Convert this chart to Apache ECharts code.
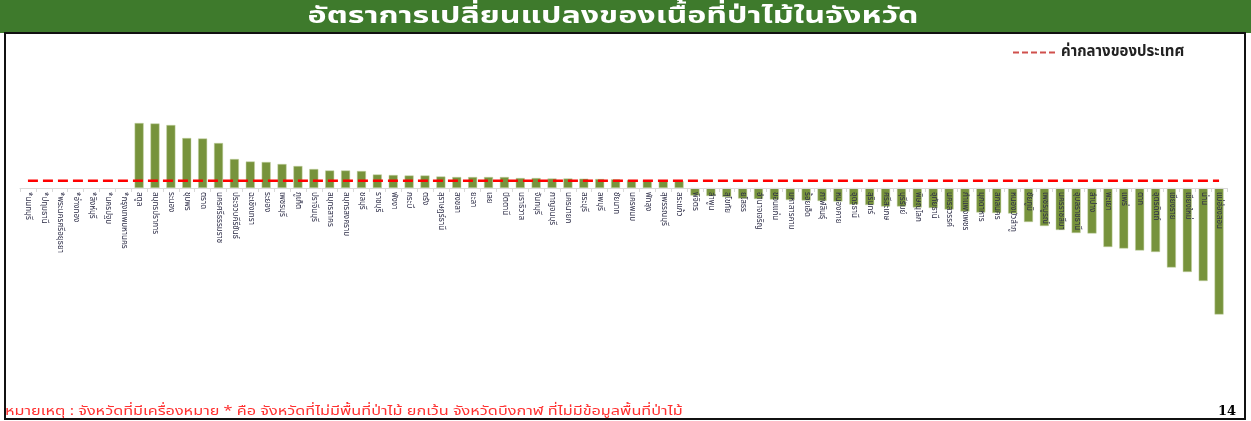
<!DOCTYPE html>
<html>
<head>
<meta charset="utf-8">
<script src="https://cdn.jsdelivr.net/npm/echarts@6/dist/echarts.min.js"></script>
<style>
  html, body { margin: 0; padding: 0; background: #fff; }
  #chart { width: 1251px; height: 421px; }
</style>
</head>
<body>
<div id="chart"></div>
<script>
// จังหวัด (เรียงตามอัตราการเปลี่ยนแปลง)
const provinces = [
    "*นนทบุรี", "*ปทุมธานี", "*พระนครศรีอยุธยา", "*อ่างทอง", "*สิงห์บุรี", "*นครปฐม", "*กรุงเทพมหานคร",
    "สตูล", "สมุทรปราการ", "ระนอง", "ชุมพร", "ตราด", "นครศรีธรรมราช", "ประจวบคีรีขันธ์", "ฉะเชิงเทรา",
    "ระยอง", "เพชรบุรี", "ภูเก็ต", "ปราจีนบุรี", "สมุทรสาคร", "สมุทรสงคราม", "ชลบุรี", "ราชบุรี",
    "พังงา", "กระบี่", "ตรัง", "สุราษฎร์ธานี", "สงขลา", "ยะลา", "เลย", "ปัตตานี", "นราธิวาส",
    "จันทบุรี", "กาญจนบุรี", "นครนายก", "สระบุรี", "ลพบุรี", "ชัยนาท", "นครพนม", "พัทลุง",
    "สุพรรณบุรี", "สระแก้ว",
    "พิจิตร", "ลำพูน", "สุโขทัย", "ยโสธร", "อำนาจเจริญ", "ขอนแก่น", "มหาสารคาม", "ร้อยเอ็ด",
    "กาฬสินธุ์", "หนองคาย", "อุดรธานี", "สุรินทร์", "ศรีสะเกษ", "บุรีรัมย์", "พิษณุโลก", "อุทัยธานี",
    "นครสวรรค์", "กำแพงเพชร", "มุกดาหาร", "สกลนคร", "หนองบัวลำภู", "ชัยภูมิ", "เพชรบูรณ์",
    "นครราชสีมา", "อุบลราชธานี", "ลำปาง", "พะเยา", "แพร่", "ตาก", "อุตรดิตถ์", "เชียงราย",
    "เชียงใหม่", "น่าน", "แม่ฮ่องสอน"
];

// อัตราการเปลี่ยนแปลง (ร้อยละ)
const changeRate = [
    null, null, null, null, null, null, null,
    6.5, 6.45, 6.3, 5.0, 4.95, 4.5, 2.9, 2.65, 2.6, 2.4, 2.2, 1.9, 1.75, 1.75, 1.7,
    1.35, 1.3, 1.25, 1.25, 1.15, 1.1, 1.1, 1.1, 1.1, 1.0, 1.0, 0.95, 0.95, 0.93,
    0.9, 0.87, 0.8, 0.77, 0.7, 0.67,
    -0.75, -0.8, -0.9, -1.05, -1.1, -1.15, -1.2, -1.25, -1.3, -1.35, -1.65, -1.7,
    -1.85, -1.85, -1.95, -2.0, -2.15, -2.35, -2.45, -2.5, -2.55, -3.4, -3.8, -4.2,
    -4.5, -4.55, -5.9, -6.05, -6.25, -6.4, -7.95, -8.4, -9.3, -12.65
];

const nationalMean = 0.73;
const meanLine = provinces.map(() => nationalMean);

const titleText = "อัตราการเปลี่ยนแปลงของเนื้อที่ป่าไม้ในจังหวัด";
const legendName = "ค่ากลางของประเทศ";
const noteText = "หมายเหตุ : จังหวัดที่มีเครื่องหมาย * คือ จังหวัดที่ไม่มีพื้นที่ป่าไม้ ยกเว้น จังหวัดบึงกาฬ ที่ไม่มีข้อมูลพื้นที่ป่าไม้";
const pageNo = "14";

const yMin = -20;
const yMax = 13;

const thaiFont = "'Noto Sans Thai', 'Noto Sans', 'DejaVu Sans', sans-serif";
const dashIcon = "path://M0,0h6v2h-6z M9,0h6v2h-6z M18,0h6v2h-6z M27,0h6v2h-6z M36,0h6v2h-6z";

const initChart = () => {
    const myChart = echarts.init(document.getElementById("chart"));
    const gridTop = 58, gridBottom = 33;
    const plotH = 421 - gridTop - gridBottom;
    // move the category axis (and its labels) up to the zero line
    const zeroOffset = -plotH * (0 - yMin) / (yMax - yMin);

    const option = {
        backgroundColor: "#fff",
        animation: false,
        textStyle: { fontFamily: thaiFont },
        graphic: [
            {
                type: "rect", z: 0,
                shape: { x: 0, y: 0, width: 1251, height: 33 },
                style: { fill: "#3e7a2c" }
            },
            {
                type: "rect", z: 0,
                shape: { x: 5, y: 33, width: 1240, height: 386 },
                style: { fill: "none", stroke: "#111", lineWidth: 2 }
            },
            {
                type: "text", z: 5,
                x: 613, y: 18, scaleX: 1.4,
                style: {
                    text: titleText, fill: "#fff", font: "bold 23px " + thaiFont,
                    align: "center", verticalAlign: "middle"
                }
            },
            {
                type: "text", z: 5,
                x: 5, y: 412, scaleX: 1.25,
                style: {
                    text: noteText, fill: "#ff3030", font: "13px " + thaiFont,
                    align: "left", verticalAlign: "middle"
                }
            },
            {
                type: "text", z: 5,
                x: 1236, y: 412,
                style: {
                    text: pageNo, fill: "#000", font: "bold 13px 'DejaVu Serif', serif",
                    align: "right", verticalAlign: "middle"
                }
            }
        ],
        legend: {
            data: [{ name: legendName, icon: dashIcon }],
            left: 1008, top: 40,
            itemWidth: 44, itemHeight: 2, itemGap: 7,
            itemStyle: { color: "#d0504d" },
            textStyle: { fontSize: 15, fontWeight: "bold", color: "#222", fontFamily: thaiFont }
        },
        grid: { left: 20, right: 24, top: gridTop, bottom: gridBottom, containLabel: false, outerBoundsMode: "none" },
        xAxis: {
            type: "category",
            data: provinces,
            offset: zeroOffset,
            z: 10,
            axisLine: { onZero: false, lineStyle: { color: "#d9d9d9" } },
            axisTick: { show: true, length: 4, lineStyle: { color: "#d9d9d9" } },
            axisLabel: {
                interval: 0, rotate: -90, fontSize: 8, color: "#2e2e48",
                margin: 4, fontFamily: thaiFont
            }
        },
        yAxis: {
            type: "value",
            min: yMin, max: yMax,
            show: false,
            splitLine: { show: false }
        },
        series: [
            {
                type: "bar",
                data: changeRate,
                barWidth: 9,
                z: 2,
                itemStyle: { color: "#77933c", borderColor: "#c5d3a5", borderWidth: 0.5 }
            },
            {
                name: legendName,
                type: "line",
                data: meanLine,
                symbol: "none",
                z: 5,
                lineStyle: { color: "#ff0000", width: 2.5, type: [10, 5] }
            }
        ]
    };
    myChart.setOption(option);
    myChart.resize();
};

window.addEventListener("load", () => {
    initChart();
});
</script>
</body>
</html>
